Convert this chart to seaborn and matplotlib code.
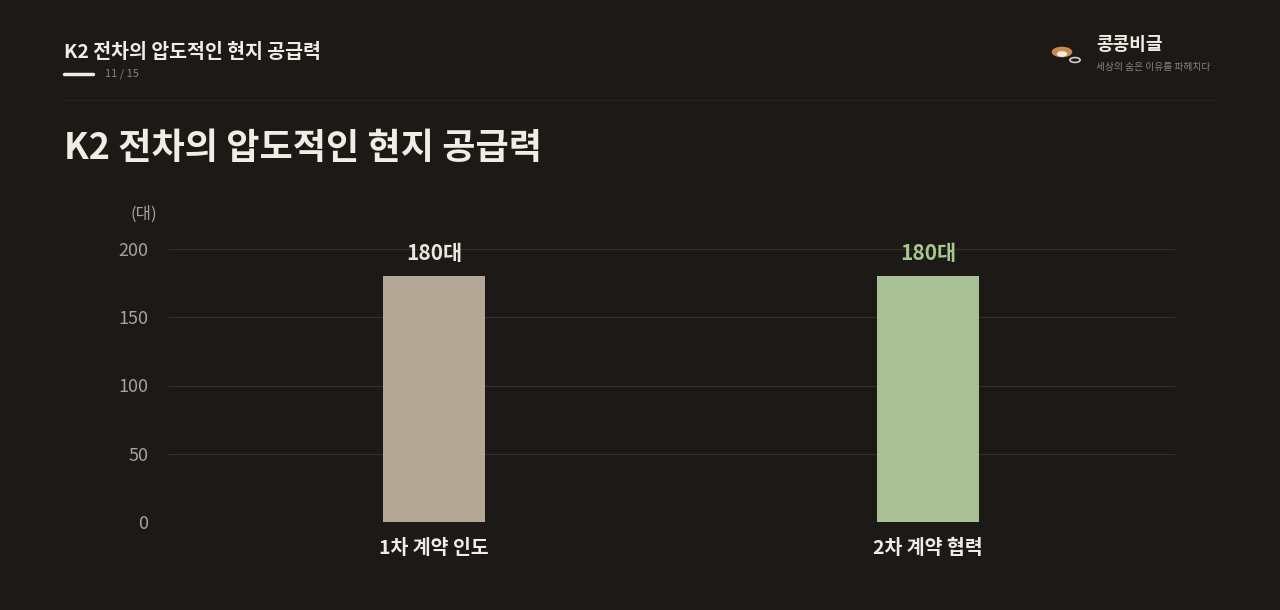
import matplotlib
matplotlib.use("Agg")
import matplotlib.pyplot as plt
import seaborn as sns
import pandas as pd
from matplotlib.patches import Circle

categories = ["1차 계약 인도", "2차 계약 협력"]
values = [180, 180]
value_labels = ["180대", "180대"]
bar_colors = ["#b8aa90", "#a9c68d"]
label_colors = ["#ece6da", "#a9c68d"]
yticks = [0, 50, 100, 150, 200]

sns.set_theme(style="dark")
plt.rcParams['font.family'] = ['Noto Sans CJK KR', 'DejaVu Sans']
BG = "#1c1917"
fig = plt.figure(figsize=(12.8, 6.1), dpi=100, facecolor=BG)
ax = fig.add_axes([168/1280, 1-522/610, (1175-168)/1280, (522-249)/610], facecolor=BG)

df = pd.DataFrame({"cat": categories, "val": values})
sns.barplot(data=df, x="cat", y="val", hue="cat", palette=bar_colors, legend=False,
            width=0.206, ax=ax, zorder=3)
for p in ax.patches:
    p.set_linewidth(0)
ax.set_xlim(-0.538, 1.5)
ax.set_ylim(0, 200)
ax.set_yticks(yticks)
ax.set_yticklabels([str(t) for t in yticks], color="#a8a29a", fontsize=13)
ax.grid(axis="y", color="#34302c", linewidth=0.8, zorder=0)
ax.grid(axis="x", visible=False)
for s in ax.spines.values():
    s.set_visible(False)
ax.tick_params(axis="y", length=0, pad=14)
ax.tick_params(axis="x", length=0, pad=12)
ax.set_xticks(range(len(categories)))
ax.set_xticklabels(categories, color="#f2ede4", fontsize=14, fontweight="bold")
ax.set_xlabel(""); ax.set_ylabel("")
for i, (v, l) in enumerate(zip(values, value_labels)):
    ax.text(i, v + 9, l, ha="center", va="bottom", color=label_colors[i], fontsize=15, fontweight="bold")

fig.text(131/1280, 1-214/610, "(대)", color="#a8a29a", fontsize=12, va="center")
fig.text(64/1280, 1-52/610, "K2 전차의 압도적인 현지 공급력", color="#f2ede4", fontsize=14, fontweight="bold", va="center")
fig.add_artist(plt.Line2D([64/1280, 93/1280], [1-74/610]*2, color="#f2ede4", lw=2.5))
fig.text(105/1280, 1-74/610, "11 / 15", color="#8a847c", fontsize=8, va="center")
fig.add_artist(plt.Line2D([64/1280, 1216/1280], [1-100/610]*2, color="#262320", lw=1))
fig.text(64/1280, 1-148/610, "K2 전차의 압도적인 현지 공급력", color="#f2ede4", fontsize=26, fontweight="bold", va="center")
fig.text(1096/1280, 1-45/610, "콩콩비글", color="#f2ede4", fontsize=13, fontweight="bold", va="center")
fig.text(1096/1280, 1-67/610, "세상의 숨은 이유를 파헤치다", color="#8a847c", fontsize=7, va="center")
fig.add_artist(Circle((1062/1280, 1-52/610), 0.0075, transform=fig.transFigure, color="#c98a4b"))
fig.add_artist(Circle((1062/1280, 1-54/610), 0.0035, transform=fig.transFigure, color="#f2ede4"))
fig.add_artist(Circle((1075/1280, 1-60/610), 0.004, transform=fig.transFigure, fill=False, ec="#cfcfcf", lw=1.2))
fig.savefig("out.png", dpi=100, facecolor=BG)
